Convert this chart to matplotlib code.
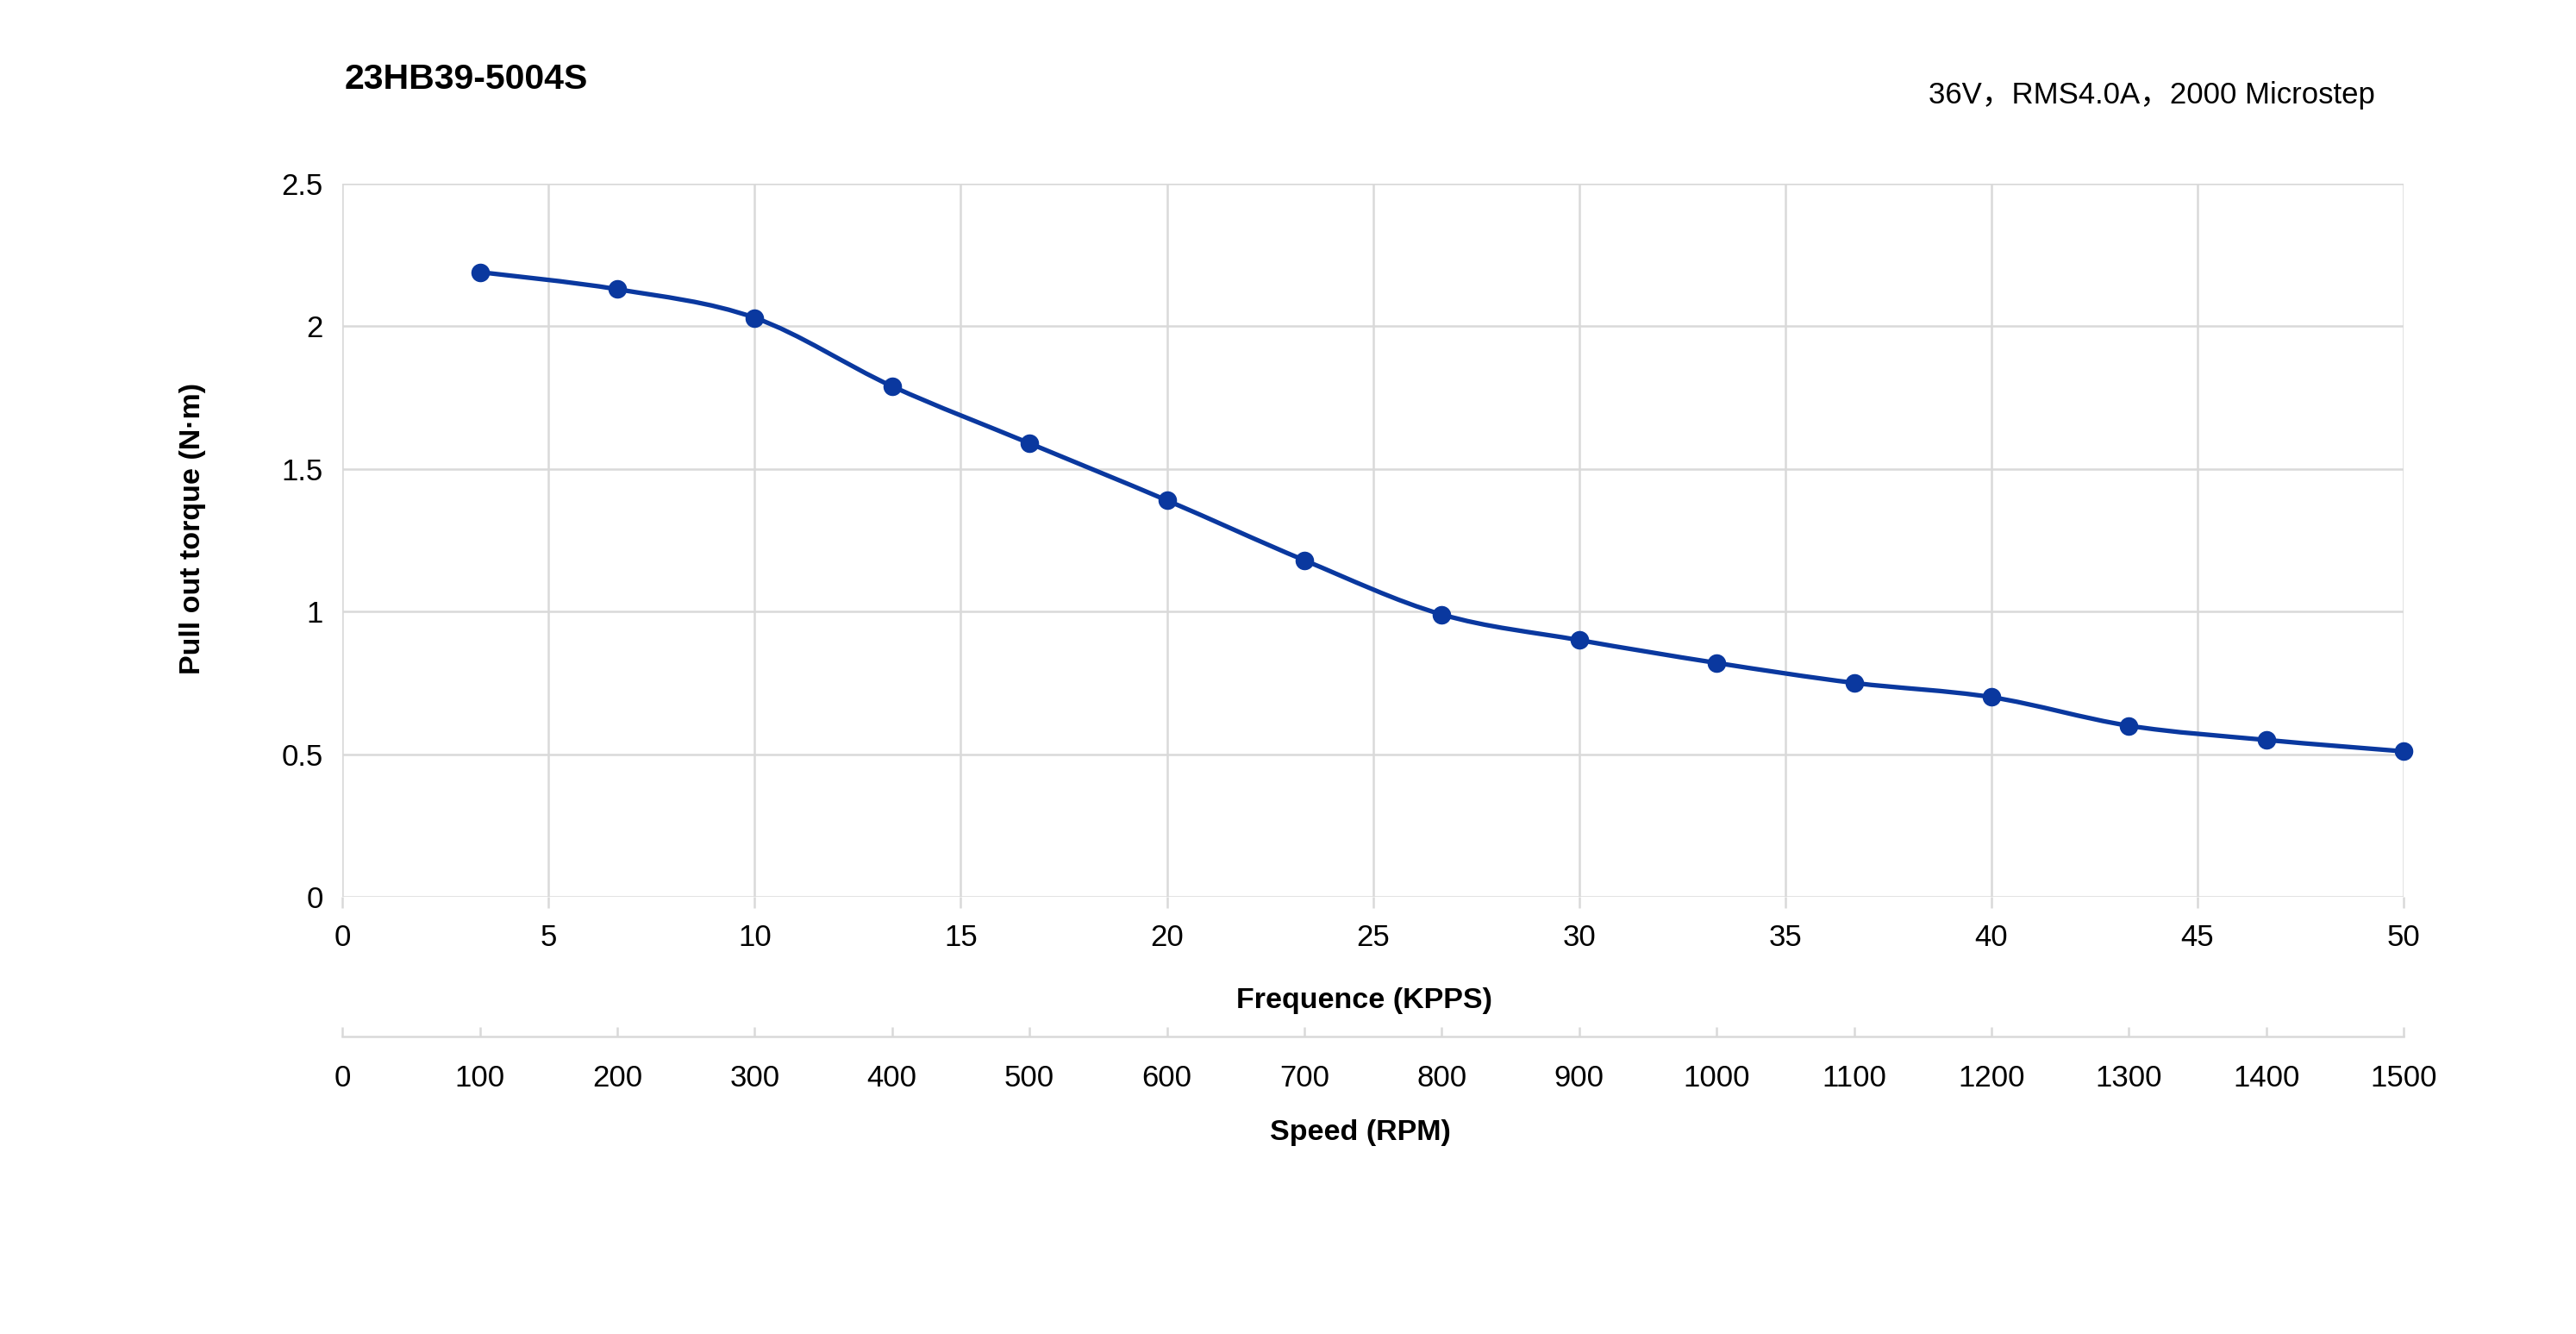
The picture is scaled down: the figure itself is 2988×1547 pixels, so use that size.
import numpy as np
import matplotlib
matplotlib.use("Agg")
import matplotlib.pyplot as plt
from matplotlib.path import Path
from matplotlib.patches import PathPatch

plt.rcParams['font.family'] = ['Liberation Sans', 'Noto Sans CJK SC', 'DejaVu Sans']

# data
speed_rpm = [100, 200, 300, 400, 500, 600, 700, 800, 900, 1000, 1100, 1200, 1300, 1400, 1500]
torque = [2.19, 2.13, 2.03, 1.79, 1.59, 1.39, 1.18, 0.99, 0.90, 0.82, 0.75, 0.70, 0.60, 0.55, 0.51]
microstep = 2000
freq_kpps = [r / 60 * microstep / 1000 for r in speed_rpm]

x_ticks = list(range(0, 51, 5))
y_ticks = [0, 0.5, 1, 1.5, 2, 2.5]
y_labels = ['0', '0.5', '1', '1.5', '2', '2.5']
rpm_ticks = list(range(0, 1501, 100))

line_col = '#0a389f'
grid_col = '#d9d9d9'

fig = plt.figure(figsize=(29.88, 15.47), dpi=100)
ax = fig.add_axes([0.1329, 0.3277, 0.8002, 0.5346])

# smooth curve through the points (catmull-rom style bezier segments)
pts = np.column_stack([freq_kpps, torque])
n = len(pts)
verts = [pts[0]]
codes = [Path.MOVETO]
for i in range(n - 1):
    p0 = pts[max(i - 1, 0)]
    p1 = pts[i]
    p2 = pts[i + 1]
    p3 = pts[min(i + 2, n - 1)]
    verts += [p1 + (p2 - p0) / 6, p2 - (p3 - p1) / 6, p2]
    codes += [Path.CURVE4] * 3
ax.add_patch(PathPatch(Path(verts, codes), fill=False, edgecolor=line_col, lw=3.8, zorder=3))
ax.plot(freq_kpps, torque, 'o', color=line_col, ms=14.5, zorder=4, clip_on=False)

ax.set_xlim(0, 50)
ax.set_ylim(0, 2.5)
ax.set_xticks(x_ticks)
ax.set_yticks(y_ticks)
ax.set_yticklabels(y_labels)
ax.grid(True, color=grid_col, lw=1.8)
ax.set_axisbelow(True)
for s in ax.spines.values():
    s.set_visible(False)
ax.tick_params(axis='x', length=9, width=1.8, color=grid_col, labelsize=25, pad=13)
ax.tick_params(axis='y', length=0, labelsize=25, pad=16)

ax.set_xlabel('Frequence (KPPS)', fontsize=24.5, fontweight='bold', labelpad=30)
ax.set_ylabel('Pull out torque (N·m)', fontsize=24.5, fontweight='bold', labelpad=63)
ax.xaxis.label.set_x(0.4956)
ax.yaxis.label.set_y(0.516)

# second scale: speed in RPM
ax2 = fig.add_axes([0.1329, 0.2230, 0.8002, 0.001])
ax2.set_xlim(0, 1500)
ax2.set_xticks(rpm_ticks)
ax2.set_yticks([])
for k in ['top', 'left', 'right']:
    ax2.spines[k].set_visible(False)
ax2.spines['bottom'].set_color(grid_col)
ax2.spines['bottom'].set_linewidth(1.8)
ax2.patch.set_alpha(0)
ax2.tick_params(axis='x', direction='in', length=8, width=1.8, color=grid_col, labelsize=25, pad=23)
ax2.set_xlabel('Speed (RPM)', fontsize=24.5, fontweight='bold', labelpad=22)
ax2.xaxis.label.set_x(0.494)

fig.text(0.1339, 0.9405, '23HB39-5004S', fontsize=29.5, fontweight='bold', va='center', ha='left')
fig.text(0.9221, 0.9285, '36V\uff0cRMS4.0A\uff0c2000 Microstep', fontsize=25, va='center', ha='right')

fig.savefig('out.png', dpi=100, facecolor='white')
